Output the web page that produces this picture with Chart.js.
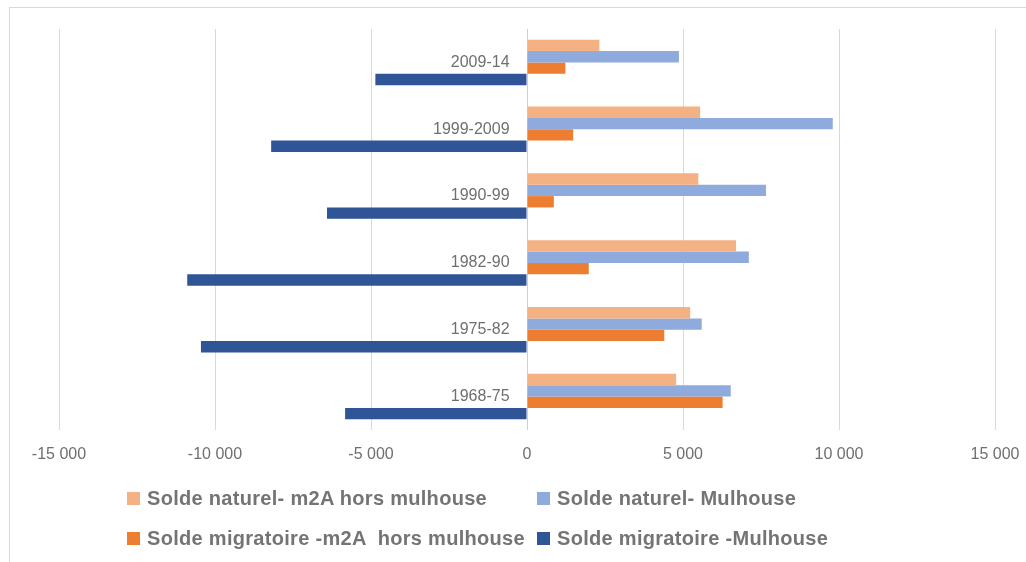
<!DOCTYPE html>
<html>
<head>
<meta charset="utf-8">
<script src="https://cdn.jsdelivr.net/npm/chart.js@4/dist/chart.umd.min.js"></script>
<style>
  html, body { margin: 0; padding: 0; background: #fff; overflow: hidden; }
  #wrap { position: relative; width: 1026px; height: 562px; }
  #frame { position: absolute; left: 9px; top: 7px; width: 1100px; height: 600px; border: 1px solid #d9d9d9; }
  #chartBox { position: absolute; left: 0; top: 0; width: 1026px; height: 562px; }
  .leg { position: absolute; font: bold 20px "Liberation Sans", Arial, sans-serif; letter-spacing: 0.3px; color: #747474; white-space: pre; line-height: 24px; }
  .leg i { position: absolute; left: -20px; top: 6px; width: 13px; height: 13px; }
</style>
</head>
<body>
<div id="wrap">
  <div id="frame"></div>
  <div id="chartBox"><canvas id="soldeChart"></canvas></div>
  <div id="legend"></div>
</div>
<script>
// Périodes (de haut en bas)
const periodes = ['2009-14', '1999-2009', '1990-99', '1982-90', '1975-82', '1968-75'];

const naturelM2A = [2320, 5550, 5490, 6700, 5230, 4780];
const naturelMulhouse = [4870, 9800, 7660, 7110, 5600, 6530];
const migratoireM2A = [1230, 1480, 860, 1980, 4400, 6270];
const migratoireMulhouse = [-4860, -8200, -6410, -10890, -10450, -5830];

const xTicks = [-15000, -10000, -5000, 0, 5000, 10000, 15000];

const series = [
  { label: 'Solde naturel- m2A hors mulhouse', data: naturelM2A, color: '#F4B183' },
  { label: 'Solde naturel- Mulhouse', data: naturelMulhouse, color: '#8FAADC' },
  { label: 'Solde migratoire -m2A  hors mulhouse', data: migratoireM2A, color: '#ED7D31' },
  { label: 'Solde migratoire -Mulhouse', data: migratoireMulhouse, color: '#2F5597' }
];

const fmt = v => String(Math.abs(v)).replace(/\B(?=(\d{3})+(?!\d))/g, ' ');

const soldeChart = new Chart(document.getElementById('soldeChart'), {
  type: 'bar',
  data: {
    labels: periodes,
    datasets: series.map(s => ({
      label: s.label,
      data: s.data,
      backgroundColor: s.color,
      borderWidth: 0,
      barPercentage: 1,
      categoryPercentage: 0.68
    }))
  },
  options: {
    indexAxis: 'y',
    responsive: true,
    maintainAspectRatio: false,
    animation: false,
    layout: { padding: { left: 59, right: 31, top: 29, bottom: 98 } },
    plugins: { legend: { display: false }, tooltip: { enabled: false } },
    scales: {
      x: {
        min: -15000,
        max: 15000,
        afterBuildTicks: axis => { axis.ticks = xTicks.map(v => ({ value: v })); },
        afterFit: s => { s.height = 34; s.paddingLeft = 0; s.paddingRight = 0; },
        grid: {
          color: c => (c.tick && c.tick.value === 0 ? '#cfcfcf' : '#d9d9d9'),
          drawTicks: true,
          tickLength: 15,
          tickColor: 'rgba(0,0,0,0)'
        },
        border: { display: false },
        ticks: {
          padding: 0,
          color: '#6f6f6f',
          font: { family: 'Liberation Sans', size: 16 },
          callback: v => (v < 0 ? '-' : '') + fmt(v)
        }
      },
      y: {
        // étiquettes décalées à gauche de l'axe zéro
        position: { x: -560 },
        afterFit: s => { s.paddingTop = 0; s.paddingBottom = 0; },
        grid: { display: false },
        border: { display: false },
        ticks: {
          padding: 0,
          color: '#6f6f6f',
          font: { family: 'Liberation Sans', size: 16 }
        }
      }
    }
  }
});

// Légende en deux colonnes
const legPos = [[147, 486], [557, 486], [147, 526], [557, 526]];
const legend = document.getElementById('legend');
series.forEach((s, i) => {
  const d = document.createElement('div');
  d.className = 'leg';
  d.style.left = legPos[i][0] + 'px';
  d.style.top = legPos[i][1] + 'px';
  d.textContent = s.label;
  const m = document.createElement('i');
  m.style.background = s.color;
  d.appendChild(m);
  legend.appendChild(d);
});
</script>
</body>
</html>
